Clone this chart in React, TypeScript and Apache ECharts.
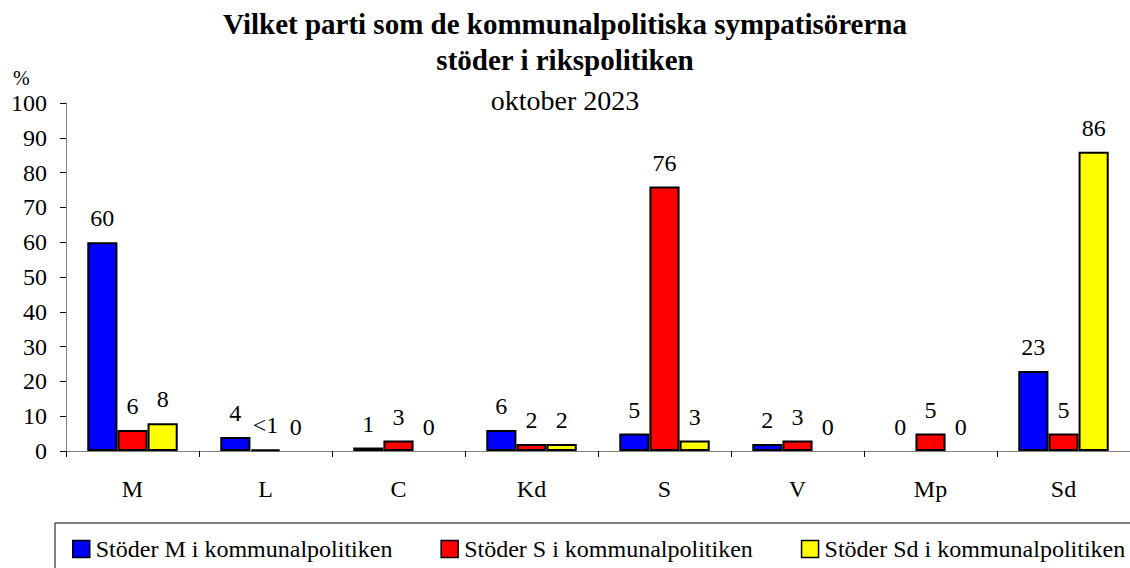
import React, { useEffect, useRef } from "react";
import * as echarts from "echarts";

const categories = ["M", "L", "C", "Kd", "S", "V", "Mp", "Sd"];
const seriesNames = [
  "Stöder M i kommunalpolitiken",
  "Stöder S i kommunalpolitiken",
  "Stöder Sd i kommunalpolitiken",
];
const valuesM = [60, 4, 1, 6, 5, 2, 0, 23];
const valuesS = [6, 0.5, 3, 2, 76, 3, 5, 5];
const valuesSd = [8, 0, 0, 2, 3, 0, 0, 86];
const labelsM = ["60", "4", "1", "6", "5", "2", "0", "23"];
const labelsS = ["6", "<1", "3", "2", "76", "3", "5", "5"];
const labelsSd = ["8", "0", "0", "2", "3", "0", "0", "86"];
const yTicks = [0, 10, 20, 30, 40, 50, 60, 70, 80, 90, 100];
const colors = ["#0000FF", "#FF0000", "#FFFF00"];

const FONT = "Liberation Serif";

export default function App() {
  const ref = useRef<HTMLDivElement>(null);
  useEffect(() => {
    if (!ref.current) return;
    const chart = echarts.init(ref.current, null, { renderer: "svg" });
    const data = [valuesM, valuesS, valuesSd];
    const labels = [labelsM, labelsS, labelsSd];
    chart.setOption({
      animation: false,
      title: [
        {
          text: "Vilket parti som de kommunalpolitiska sympatisörerna\nstöder i rikspolitiken",
          left: "center",
          top: 6,
          padding: 0,
          textStyle: { fontFamily: FONT, fontSize: 29, fontWeight: "bold", color: "#000", lineHeight: 36 },
        },
        {
          text: "oktober 2023",
          left: "center",
          top: 84,
          padding: 0,
          textStyle: { fontFamily: FONT, fontSize: 28, fontWeight: "normal", color: "#000", lineHeight: 32 },
        },
      ],
      grid: { left: 66, top: 103, right: 0, bottom: 117, containLabel: false },
      legend: {
        left: 72,
        top: 537,
        padding: 0,
        itemWidth: 17,
        itemHeight: 17,
        itemGap: 48,
        icon: "rect",
        data: seriesNames,
        itemStyle: { borderColor: "#000", borderWidth: 1.5 },
        textStyle: { fontFamily: FONT, fontSize: 24, color: "#000", padding: [0, 0, 0, 1] },
      },
      xAxis: {
        type: "category",
        data: categories,
        axisLine: { lineStyle: { color: "#808080", width: 1 } },
        axisTick: { show: true, length: 6, inside: false, lineStyle: { color: "#000" } },
        axisLabel: { fontFamily: FONT, fontSize: 24, color: "#000", margin: 26 },
      },
      yAxis: {
        type: "value",
        min: 0,
        max: 100,
        interval: 10,
        splitLine: { show: false },
        axisLine: { show: true, lineStyle: { color: "#808080", width: 1 } },
        axisTick: { show: true, length: 6, lineStyle: { color: "#000" } },
        axisLabel: {
          fontFamily: FONT,
          fontSize: 24,
          color: "#000",
          margin: 19,
          formatter: (v: number) => (yTicks.includes(v) ? String(v) : ""),
        },
      },
      graphic: [
        {
          type: "text",
          left: 13,
          top: 68,
          style: { text: "%", fontFamily: FONT, fontSize: 20, fill: "#000" },
        },
        {
          type: "rect",
          shape: { x: 55, y: 523, width: 1100, height: 60 },
          style: { fill: "none", stroke: "#000", lineWidth: 1 },
          z: -1,
        },
      ],
      series: seriesNames.map((name, i) => ({
        name,
        type: "bar",
        data: data[i].map((v) => ({
          value: v,
          itemStyle: { borderWidth: v === 0 ? 0 : 2 },
        })),
        barGap: "0%",
        barCategoryGap: "32%",
        itemStyle: { color: colors[i], borderColor: "#000", borderWidth: 2 },
        label: {
          show: true,
          position: "top",
          distance: 12,
          fontFamily: FONT,
          fontSize: 24,
          color: "#000",
          formatter: (p: any) => labels[i][p.dataIndex],
        },
      })),
    });
    return () => chart.dispose();
  }, []);
  return <div ref={ref} style={{ width: 1130, height: 568, position: "absolute", left: 0, top: 0 }} />;
}
